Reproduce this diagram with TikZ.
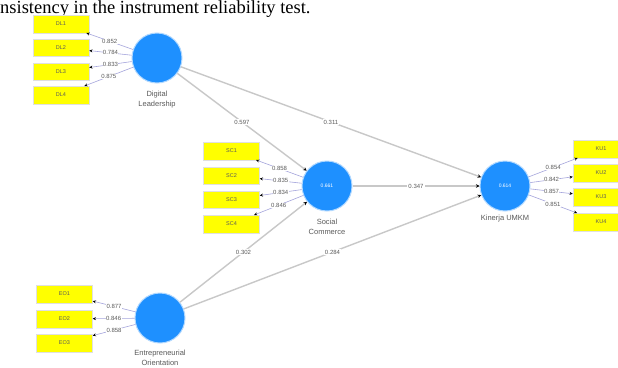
\documentclass[tikz,border=0pt]{standalone}
\usepackage{fontspec}
\setmainfont{Liberation Serif}
\setsansfont{Liberation Sans}
\usetikzlibrary{arrows.meta}
\definecolor{plsblue}{RGB}{30,144,255}
\definecolor{indyellow}{RGB}{255,255,0}
\definecolor{pathgray}{RGB}{200,200,200}
\definecolor{loadcol}{RGB}{165,165,220}
\definecolor{txtgray}{RGB}{90,90,90}
\begin{document}
\begin{tikzpicture}[x=1pt,y=-1pt,
 latent/.style={circle,fill=plsblue,draw=plsblue!35,line width=1pt,minimum size=50pt,inner sep=0pt,font=\sffamily\fontsize{5}{6}\selectfont,text=white},
 indbox/.style={rectangle,fill=indyellow,draw=black!12,line width=0.5pt,minimum width=56pt,minimum height=17.5pt,inner sep=0pt,font=\sffamily\fontsize{5.5}{6}\selectfont,text=txtgray},
 lvlabel/.style={font=\sffamily\fontsize{7.5}{9.5}\selectfont,text=txtgray,align=center,inner sep=0pt},
 loadline/.style={draw=loadcol,line width=0.6pt,-{Stealth[length=3.2pt,width=3pt,color=black]}},
 pathline/.style={draw=pathgray,line width=1.4pt,-{Stealth[length=3.5pt,width=3.5pt,color=black]}},
 loadlab/.style={fill=white,inner sep=0.4pt,font=\sffamily\fontsize{6}{6}\selectfont,text=txtgray},
 pathlab/.style={fill=white,inner sep=1pt,font=\sffamily\fontsize{6}{6}\selectfont,text=txtgray},
]
\useasboundingbox[fill=white] (0,0) rectangle (618,367);

% caption fragment
\node[anchor=base west,inner sep=0pt,font=\fontsize{18.5}{22}\selectfont] (title) at (0,13.8) {nsistency in the instrument reliability test.};

% latent variables
\node[latent] (DL) at (157,58) {};
\node[latent] (SC) at (327,186) {0.661};
\node[latent] (KU) at (505,186) {0.614};
\node[latent] (EO) at (160,318) {};

\node[lvlabel,anchor=north] (DLl) at (157,91) {Digital\\Leadership};
\node[lvlabel,anchor=north] (SCl) at (327,219) {Social\\Commerce};
\node[lvlabel,anchor=north] (KUl) at (505,215) {Kinerja UMKM};
\node[lvlabel,anchor=north] (EOl) at (160,350) {Entrepreneurial\\Orientation};

% indicators
\node[indbox] (DL1) at (61,24) {DL1};
\node[indbox] (DL2) at (61,47.5) {DL2};
\node[indbox] (DL3) at (61,71.5) {DL3};
\node[indbox] (DL4) at (61,95) {DL4};

\node[indbox] (SC1) at (231.5,151) {SC1};
\node[indbox] (SC2) at (231.5,175.5) {SC2};
\node[indbox] (SC3) at (231.5,199.5) {SC3};
\node[indbox] (SC4) at (231.5,224) {SC4};

\node[indbox] (KU1) at (601,149) {KU1};
\node[indbox] (KU2) at (601,173) {KU2};
\node[indbox] (KU3) at (601,197) {KU3};
\node[indbox] (KU4) at (601,222) {KU4};

\node[indbox] (EO1) at (64.5,294) {EO1};
\node[indbox] (EO2) at (64.5,319) {EO2};
\node[indbox] (EO3) at (64.5,343) {EO3};

% outer loadings
\draw[loadline] (DL) -- node[loadlab] {0.852} (DL1);
\draw[loadline] (DL) -- node[loadlab] {0.784} (DL2);
\draw[loadline] (DL) -- node[loadlab] {0.833} (DL3);
\draw[loadline] (DL) -- node[loadlab] {0.875} (DL4);

\draw[loadline] (SC) -- node[loadlab] {0.858} (SC1);
\draw[loadline] (SC) -- node[loadlab] {0.835} (SC2);
\draw[loadline] (SC) -- node[loadlab] {0.834} (SC3);
\draw[loadline] (SC) -- node[loadlab] {0.846} (SC4);

\draw[loadline] (KU) -- node[loadlab] {0.854} (KU1);
\draw[loadline] (KU) -- node[loadlab] {0.842} (KU2);
\draw[loadline] (KU) -- node[loadlab] {0.857} (KU3);
\draw[loadline] (KU) -- node[loadlab] {0.851} (KU4);

\draw[loadline] (EO) -- node[loadlab] {0.877} (EO1);
\draw[loadline] (EO) -- node[loadlab] {0.846} (EO2);
\draw[loadline] (EO) -- node[loadlab] {0.858} (EO3);

% path coefficients
\draw[pathline] (DL) -- node[pathlab] {0.597} (SC);
\draw[pathline] (DL) -- node[pathlab] {0.311} (KU);
\draw[pathline] (SC) -- node[pathlab] {0.347} (KU);
\draw[pathline] (EO) -- node[pathlab] {0.302} (SC);
\draw[pathline] (EO) -- node[pathlab] {0.284} (KU);
\end{tikzpicture}
\end{document}
